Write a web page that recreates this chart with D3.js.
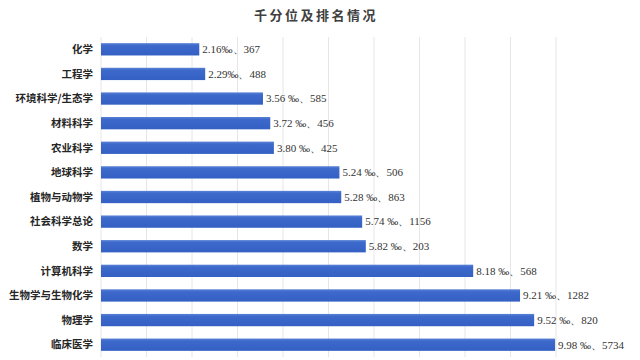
<!DOCTYPE html>
<html><head><meta charset="utf-8">
<script src="https://cdn.jsdelivr.net/npm/d3@7"></script>
<style>body{margin:0;background:#fff}</style>
</head><body>
<svg id="c" width="640" height="360"></svg>
<script>
const title = "千分位及排名情况";
const categories = ["化学","工程学","环境科学/生态学","材料科学","农业科学","地球科学","植物与动物学","社会科学总论","数学","计算机科学","生物学与生物化学","物理学","临床医学"];
const permille = [2.16,2.29,3.56,3.72,3.80,5.24,5.28,5.74,5.82,8.18,9.21,9.52,9.98];
const ranks = [367,488,585,456,425,506,863,1156,203,568,1282,820,5734];
const valueLabels = ["2.16‰、367","2.29‰、488","3.56 ‰、585","3.72 ‰、456","3.80 ‰、425","5.24 ‰、506","5.28 ‰、863","5.74 ‰、1156","5.82 ‰、203","8.18 ‰、568","9.21 ‰、1282","9.52 ‰、820","9.98 ‰、5734"];
const xTicks = [0,1,2,3,4,5,6,7,8,9,10];

const svg = d3.select("#c");
const x = d3.scaleLinear().domain([0,10]).range([101,556]);
const y = d3.scaleBand().domain(categories).range([37,357]).paddingInner(0.5).paddingOuter(0.25);

const defs = svg.append("defs");
const g = defs.append("linearGradient").attr("id","bg").attr("x1",0).attr("y1",0).attr("x2",0).attr("y2",1);
g.append("stop").attr("offset","0%").attr("stop-color","#5a82d6");
g.append("stop").attr("offset","20%").attr("stop-color","#3d69cb");
g.append("stop").attr("offset","100%").attr("stop-color","#3460c4");

svg.append("text").attr("x",316).attr("y",20).attr("text-anchor","middle")
  .attr("font-family","'Noto Sans CJK SC'").attr("font-weight","bold").attr("font-size",13)
  .attr("letter-spacing","2.5px").attr("fill","#404040").text(title);

svg.append("g").selectAll("line").data(xTicks).join("line")
  .attr("x1",d=>x(d)).attr("x2",d=>x(d)).attr("y1",37).attr("y2",357)
  .attr("stroke","#e6e6e6").attr("stroke-width",1);

svg.append("g").selectAll("rect").data(categories).join("rect")
  .attr("x",x(0)).attr("y",d=>y(d)).attr("height",y.bandwidth())
  .attr("width",(d,i)=>x(permille[i])-x(0)).attr("fill","url(#bg)");

svg.append("g").selectAll("text").data(categories).join("text")
  .attr("x",93).attr("y",d=>y(d)+y.bandwidth()/2).attr("dy","0.36em").attr("text-anchor","end")
  .attr("font-family","'Noto Sans CJK SC'").attr("font-weight","bold").attr("font-size",10.5)
  .attr("fill","#262626").text(d=>d);

svg.append("g").selectAll("text").data(categories).join("text")
  .attr("x",(d,i)=>x(permille[i])+3).attr("y",d=>y(d)+y.bandwidth()/2).attr("dy","0.35em")
  .attr("font-family","'Liberation Serif'").attr("font-size",11)
  .attr("fill","#333").text((d,i)=>valueLabels[i]);
</script>
</body></html>
